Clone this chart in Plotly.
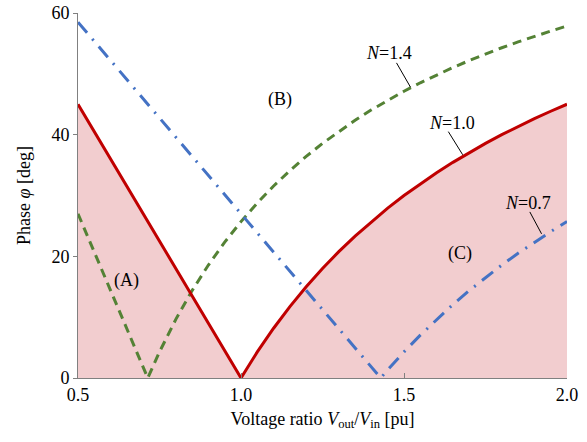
import plotly.graph_objects as go

# N = 1.0 (red, solid)
x_n10 = [0.5, 1.0, 1.05, 1.1, 1.15, 1.2, 1.25, 1.3, 1.35, 1.4, 1.45, 1.5, 1.55, 1.6,
         1.65, 1.7, 1.75, 1.8, 1.85, 1.9, 1.95, 2.0]
y_n10 = [45.0, 0.0, 4.29, 8.18, 11.74, 15.0, 18.0, 20.77, 23.33, 25.71, 27.93, 30.0,
         31.94, 33.75, 35.45, 37.06, 38.57, 40.0, 41.35, 42.63, 43.85, 45.0]

# N = 1.4 (green, dashed)
x_n14 = [0.5, 0.714, 0.75, 0.8, 0.85, 0.9, 0.95, 1.0, 1.05, 1.1, 1.15, 1.2, 1.25, 1.3,
         1.35, 1.4, 1.45, 1.5, 1.55, 1.6, 1.65, 1.7, 1.75, 1.8, 1.85, 1.9, 1.95, 2.0]
y_n14 = [27.0, 0.0, 4.29, 9.64, 14.37, 18.57, 22.33, 25.71, 28.78, 31.56, 34.10, 36.43,
         38.57, 40.55, 42.38, 44.08, 45.67, 47.14, 48.53, 49.82, 51.04, 52.18, 53.27,
         54.29, 55.25, 56.17, 57.03, 57.86]

# N = 0.7 (blue, dash-dot)
x_n07 = [0.5, 1.4286, 1.45, 1.5, 1.55, 1.6, 1.65, 1.7, 1.75, 1.8, 1.85, 1.9, 1.95, 2.0]
y_n07 = [58.5, 0.0, 1.33, 4.29, 7.05, 9.64, 12.08, 14.37, 16.53, 18.57, 20.50, 22.33,
         24.07, 25.71]

x_ticks = [0.5, 1.0, 1.5, 2.0]
x_tick_text = ["0.5", "1.0", "1.5", "2.0"]
y_ticks = [0, 20, 40, 60]

FONT = "Liberation Serif"
fig = go.Figure()

# pink region under the N=1.0 curve
fig.add_trace(go.Scatter(x=x_n10, y=y_n10, mode="lines", line=dict(width=0, color="rgba(0,0,0,0)"),
                         fill="tozeroy", fillcolor="#f2cdcf", hoverinfo="skip", showlegend=False))
fig.add_trace(go.Scatter(x=x_n14, y=y_n14, mode="lines",
                         line=dict(color="#548235", width=3, dash="9px,6px"), showlegend=False))
fig.add_trace(go.Scatter(x=x_n07, y=y_n07, mode="lines",
                         line=dict(color="#4472c4", width=3, dash="14px,8px,2px,8px"), showlegend=False))
fig.add_trace(go.Scatter(x=x_n10, y=y_n10, mode="lines",
                         line=dict(color="#c00000", width=3), showlegend=False))

txt = dict(font=dict(family=FONT, size=18, color="black"), showarrow=False, xref="x", yref="y")
annots = [
    dict(x=0.65, y=16.1, text="(A)"),
    dict(x=1.12, y=45.7, text="(B)"),
    dict(x=1.672, y=20.5, text="(C)"),
    dict(x=1.454, y=53.4, text="<i>N</i>=1.4"),
    dict(x=1.646, y=41.9, text="<i>N</i>=1.0"),
    dict(x=1.879, y=28.7, text="<i>N</i>=0.7"),
]
for a in annots:
    a.update(txt)
    fig.add_annotation(**a)

leaders = [((1.477, 51.8), (1.520, 47.8)),
           ((1.636, 40.5), (1.680, 36.7)),
           ((1.886, 27.3), (1.922, 23.7))]
for (x0, y0), (x1, y1) in leaders:
    fig.add_shape(type="line", x0=x0, y0=y0, x1=x1, y1=y1, xref="x", yref="y",
                  line=dict(color="black", width=1))

fig.update_layout(
    width=587, height=442,
    margin=dict(l=78, r=20, t=13, b=64, autoexpand=False),
    plot_bgcolor="white", paper_bgcolor="white",
    font=dict(family=FONT, size=18, color="black"),
    xaxis=dict(range=[0.5, 2.0], tickvals=x_ticks, ticktext=x_tick_text, automargin=False,
               showgrid=False, zeroline=False, showline=True, linecolor="#808080", linewidth=1,
               ticks="inside", ticklen=5, tickcolor="#808080",
               title=dict(text="Voltage ratio <i>V</i><sub>out</sub>/<i>V</i><sub>in</sub> [pu]",
                          font=dict(family=FONT, size=18), standoff=8)),
    yaxis=dict(range=[0, 60], tickvals=y_ticks, automargin=False,
               showgrid=False, zeroline=False, showline=True, linecolor="#808080", linewidth=1,
               ticks="outside", ticklen=4, tickcolor="#808080",
               title=dict(text="Phase <i>φ</i> [deg]", font=dict(family=FONT, size=18), standoff=16)),
)

fig.write_html("out.html", config={"displayModeBar": False},
               post_script="document.body.style.margin='0';")
